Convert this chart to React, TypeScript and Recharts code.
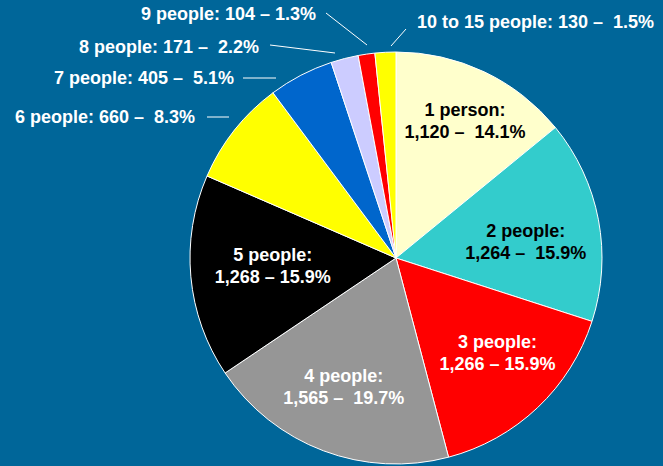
import { Cell, Pie, PieChart } from 'recharts';

// household size distribution
const categories = [
  '1 person',
  '2 people',
  '3 people',
  '4 people',
  '5 people',
  '6 people',
  '7 people',
  '8 people',
  '9 people',
  '10 to 15 people',
];
const households = [1120, 1264, 1266, 1565, 1268, 660, 405, 171, 104, 130];
const valueLabels = ['1,120', '1,264', '1,266', '1,565', '1,268', '660', '405', '171', '104', '130'];
const percentLabels = ['14.1', '15.9', '15.9', '19.7', '15.9', '8.3', '5.1', '2.2', '1.3', '1.5'];
const dashSpacing = ['  ', '  ', ' ', '  ', ' ', '  ', '  ', '  ', ' ', '  '];
const sliceColors = [
  '#FFFFCC',
  '#33CCCC',
  '#FF0000',
  '#969696',
  '#000000',
  '#FFFF00',
  '#0066CC',
  '#CCCCFF',
  '#FF0000',
  '#FFFF00',
];

const data = categories.map((name, i) => ({ name, value: households[i] }));

const BG = '#006699';
const FONT = '"Liberation Sans", Arial, sans-serif';
const RAD = Math.PI / 180;

// inside labels (first five slices): radius fraction, clockwise nudge, text colour
const insideRadius = [0.745, 0.635, 0.675, 0.675, 0.6];
const insideNudge = [1.4, 3.7, -3.5, 1.4, 1.3];
const insideColor = ['#000', '#000', '#fff', '#fff', '#fff'];

// outside labels: leader line and text anchor, offsets from pie centre
const outside: Record<number, { line: number[]; tx: number; ty: number; anchor: 'start' | 'end' }> = {
  5: { line: [-189, -141, -167, -141], tx: -201, ty: -141, anchor: 'end' },
  6: { line: [-153, -180, -120, -180], tx: -162, ty: -180, anchor: 'end' },
  7: { line: [-126, -213, -61, -205], tx: -137, ty: -211, anchor: 'end' },
  8: { line: [-70, -245, -29, -213], tx: -80, ty: -244, anchor: 'end' },
  9: { line: [10, -229, -5, -212], tx: 21, ty: -236, anchor: 'start' },
};

function Label({ x, y, fill, anchor, children }: any) {
  return (
    <text
      x={x}
      y={y}
      textAnchor={anchor}
      dominantBaseline="central"
      fill={fill}
      fontFamily={FONT}
      fontWeight="bold"
      fontSize={18}
      style={{ whiteSpace: 'pre' }}
    >
      {children}
    </text>
  );
}

function renderLabel(props: any) {
  const { cx, cy, midAngle, outerRadius, index } = props;
  const text = `${valueLabels[index]} –${dashSpacing[index]}${percentLabels[index]}%`;
  if (index < 5) {
    const r = outerRadius * insideRadius[index];
    const a = (midAngle - insideNudge[index]) * RAD;
    const x = cx + r * Math.cos(-a);
    const y = cy + r * Math.sin(-a);
    return (
      <g key={`l${index}`}>
        <Label x={x} y={y - 11} fill={insideColor[index]} anchor="middle">
          {`${categories[index]}:`}
        </Label>
        <Label x={x} y={y + 11} fill={insideColor[index]} anchor="middle">
          {text}
        </Label>
      </g>
    );
  }
  const o = outside[index];
  return (
    <g key={`l${index}`}>
      <line
        x1={cx + o.line[0]}
        y1={cy + o.line[1]}
        x2={cx + o.line[2]}
        y2={cy + o.line[3]}
        stroke="#fff"
        strokeWidth={1}
      />
      <Label x={cx + o.tx} y={cy + o.ty} fill="#fff" anchor={o.anchor}>
        {`${categories[index]}: ${text}`}
      </Label>
    </g>
  );
}

export default function App() {
  return (
    <div style={{ position: 'fixed', left: 0, top: 0, width: 663, height: 466, background: BG }}>
      <PieChart width={663} height={466} margin={{ top: 0, right: 0, bottom: 0, left: 0 }}>
        <Pie
          data={data}
          dataKey="value"
          nameKey="name"
          cx={396}
          cy={258}
          outerRadius={206}
          startAngle={90}
          endAngle={-270}
          stroke="#fff"
          strokeWidth={1}
          labelLine={false}
          label={renderLabel}
          isAnimationActive={false}
        >
          {data.map((d, i) => (
            <Cell key={d.name} fill={sliceColors[i]} />
          ))}
        </Pie>
      </PieChart>
    </div>
  );
}
